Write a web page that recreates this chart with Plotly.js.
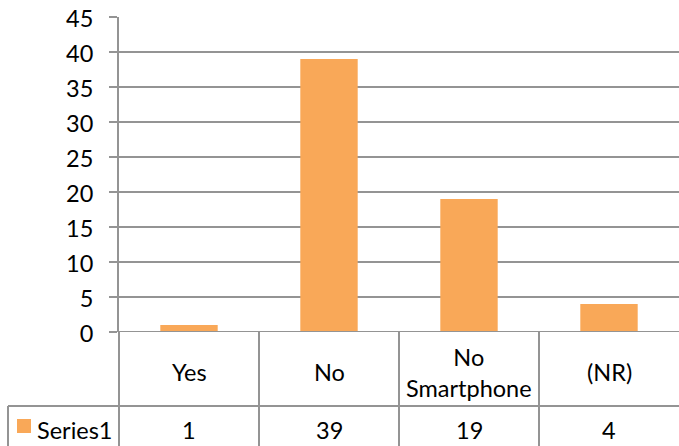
<!DOCTYPE html>
<html>
<head>
<meta charset="utf-8">
<script src="https://cdn.plot.ly/plotly-3.0.1.min.js"></script>
<style>
html,body{margin:0;padding:0;background:#fff;}
#chart{width:679px;height:446px;}
</style>
</head>
<body>
<div id="chart"></div>
<script>
const categories = ["Yes", "No", "No Smartphone", "(NR)"];
const categoryLabels = ["Yes", "No", "No<br>Smartphone", "(NR)"];
const seriesName = "Series1";
const values = [1, 39, 19, 4];
const yTicks = [0, 5, 10, 15, 20, 25, 30, 35, 40, 45];

const W = 679, H = 446;
const L = 119, R = 0, T = 17, B = 114;
const plotW = W - L - R, plotH = H - T - B;
const px2x = px => (px - L) / plotW;
const py2y = py => (H - B - py) / plotH;

const gridColor = "#949494";
const barColor = "#F9A858";
const font = "Lato, 'Open Sans', sans-serif";
const fs = 23.5;

const shapes = [];
shapes.push({type: "line", xref: "paper", yref: "paper", x0: 0, x1: 0, y0: 0, y1: py2y(H + 2),
  line: {color: gridColor, width: 2}});
for (let i = 1; i < categories.length; i++) {
  shapes.push({type: "line", xref: "x", yref: "paper", x0: i - 0.5, x1: i - 0.5, y0: 0, y1: py2y(H + 2),
    line: {color: gridColor, width: 2}});
}
shapes.push({type: "line", xref: "paper", yref: "paper", x0: px2x(8), x1: 1, y0: py2y(406), y1: py2y(406),
  line: {color: gridColor, width: 2}});
shapes.push({type: "line", xref: "paper", yref: "paper", x0: px2x(8), x1: px2x(8), y0: py2y(406), y1: py2y(H + 2),
  line: {color: gridColor, width: 2}});
shapes.push({type: "line", xref: "paper", yref: "y", x0: px2x(111), x1: 1, y0: 0, y1: 0,
  line: {color: gridColor, width: 2}});
shapes.push({type: "rect", xref: "paper", yref: "paper", x0: px2x(17), x1: px2x(31), y0: py2y(433), y1: py2y(419),
  fillcolor: barColor, line: {width: 0}});

const annotations = [];
categories.forEach((c, i) => {
  annotations.push({xref: "x", yref: "paper", x: c, y: py2y(372), text: categoryLabels[i],
    showarrow: false, xanchor: "center", yanchor: "middle", font: {family: font, size: fs, color: "#000"}});
  annotations.push({xref: "x", yref: "paper", x: c, y: py2y(430), text: String(values[i]),
    showarrow: false, xanchor: "center", yanchor: "middle", font: {family: font, size: fs, color: "#000"}});
});
annotations.push({xref: "paper", yref: "paper", x: px2x(35), y: py2y(430), text: seriesName,
  showarrow: false, xanchor: "left", yanchor: "middle", font: {family: font, size: fs, color: "#000"}});

const data = [{
  type: "bar",
  x: categories,
  y: values,
  name: seriesName,
  marker: {color: barColor, line: {width: 0}},
  width: 0.41,
  hoverinfo: "none"
}];

const layout = {
  width: W, height: H,
  margin: {l: L, r: R, t: T, b: B, pad: 0},
  paper_bgcolor: "#fff",
  plot_bgcolor: "#fff",
  showlegend: false,
  font: {family: font, color: "#000"},
  xaxis: {
    type: "category",
    categoryarray: categories,
    range: [-0.5, categories.length - 0.5],
    showticklabels: false,
    showgrid: false,
    zeroline: false,
    showline: false,
    ticks: "",
    fixedrange: true
  },
  yaxis: {
    range: [0, 45],
    tickvals: yTicks,
    ticktext: yTicks.map(String),
    showgrid: true,
    gridcolor: gridColor,
    gridwidth: 2,
    zeroline: false,
    showline: true,
    linecolor: gridColor,
    linewidth: 2,
    ticks: "outside",
    ticklen: 8,
    tickwidth: 2,
    tickcolor: gridColor,
    ticklabelstandoff: 11,
    ticklabelshift: 2,
    tickfont: {family: font, size: fs, color: "#000"},
    fixedrange: true
  },
  shapes: shapes,
  annotations: annotations
};

Plotly.newPlot("chart", data, layout, {displayModeBar: false, staticPlot: true});
</script>
</body>
</html>
